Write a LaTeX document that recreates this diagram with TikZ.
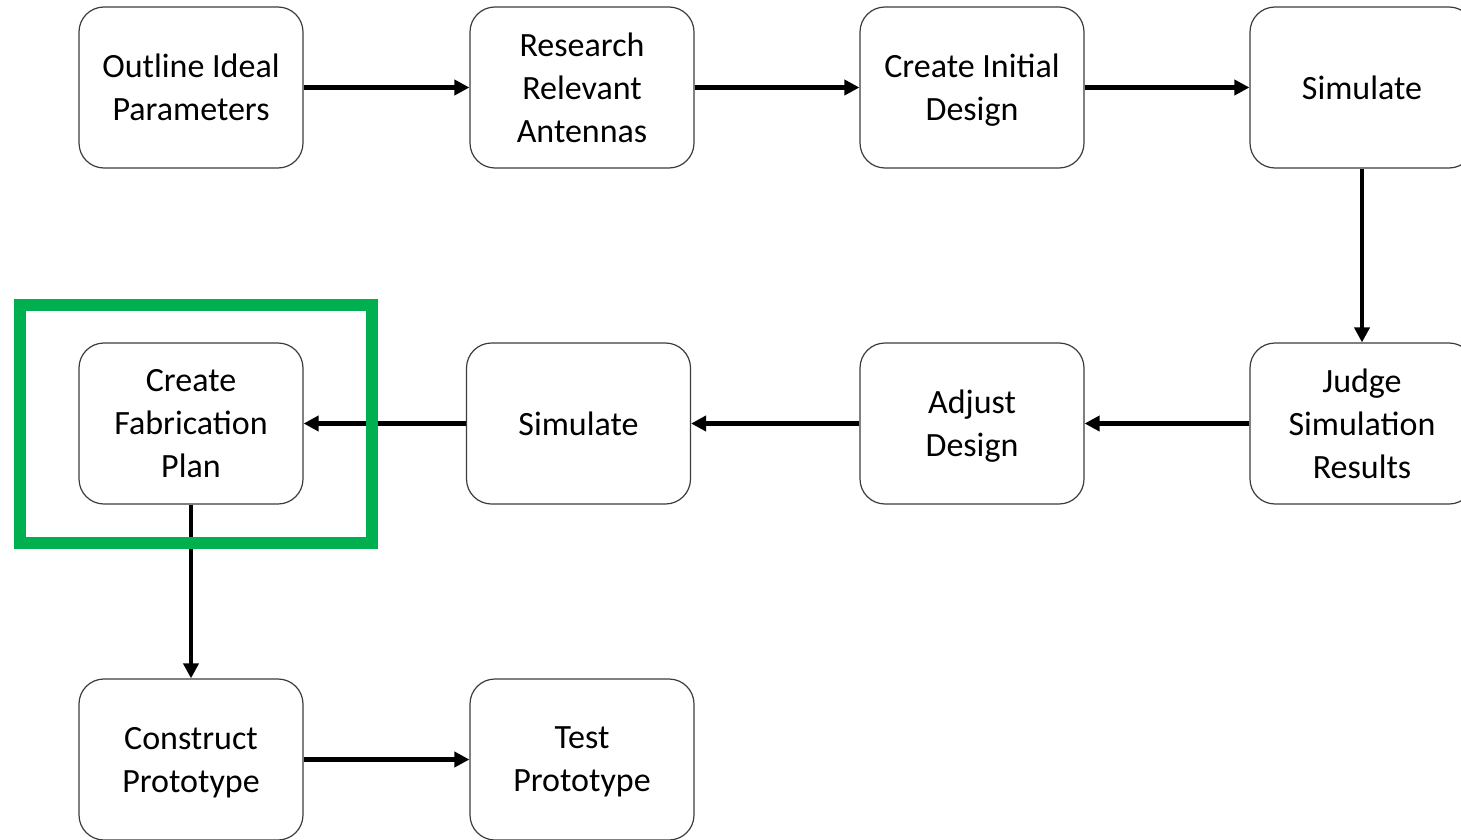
\documentclass[tikz,border=0pt]{standalone}
\usepackage{fontspec}
\setmainfont{Carlito}
\usetikzlibrary{arrows.meta}
\definecolor{boxline}{RGB}{60,60,60}
\definecolor{hlgreen}{RGB}{0,176,80}
\tikzset{
  stepbox/.style={draw=boxline, line width=1.2pt, rounded corners=25pt, fill=white,
    minimum width=224pt, minimum height=161pt, align=center, inner sep=0pt,
    text depth=0pt, font=\fontsize{34}{43}\selectfont},
  flow/.style={line width=4.2pt, -{Triangle[length=15pt,width=15pt]}},
}
\begin{document}
\begin{tikzpicture}[x=1pt,y=-1pt]
\clip (0,0) rectangle (1461,840);
\fill[white] (0,0) rectangle (1461,840);
\node[stepbox] (outline) at (191,87.5) {Outline Ideal\\Parameters};
\node[stepbox] (research) at (582,87.5) {Research\\Relevant\\Antennas};
\node[stepbox] (create) at (972,87.5) {Create Initial\\Design};
\node[stepbox] (sim1) at (1362,87.5) {Simulate};
\node[stepbox] (judge) at (1362,423.5) {Judge\\Simulation\\Results};
\node[stepbox] (adjust) at (972,423.5) {Adjust\\Design};
\node[stepbox] (sim2) at (578.5,423.5) {Simulate};
\node[stepbox] (fab) at (191,423.5) {Create\\Fabrication\\Plan};
\node[stepbox] (construct) at (191,759.5) {Construct\\Prototype};
\node[stepbox] (test) at (582,759.5) {Test\\Prototype};
\draw[flow] (outline.east) -- (research.west);
\draw[flow] (research.east) -- (create.west);
\draw[flow] (create.east) -- (sim1.west);
\draw[flow] (sim1.south) -- (judge.north);
\draw[flow] (judge.west) -- (adjust.east);
\draw[flow] (adjust.west) -- (sim2.east);
\draw[flow] (sim2.west) -- (fab.east);
\draw[flow] (fab.south) -- (construct.north);
\draw[flow] (construct.east) -- (test.west);
\draw[hlgreen, line width=12pt] (20,305) rectangle (372,543);
\end{tikzpicture}
\end{document}
